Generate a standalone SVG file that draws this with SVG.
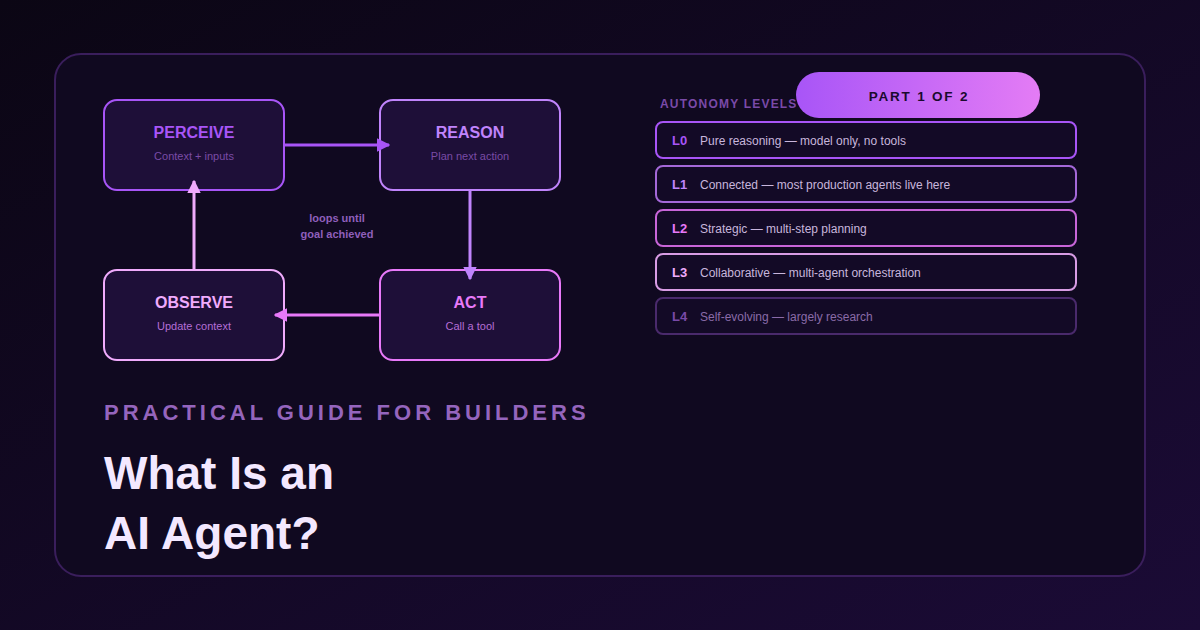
<svg xmlns="http://www.w3.org/2000/svg" width="1200" height="630" viewBox="0 0 1200 630">
<defs>
<linearGradient id="bg" x1="0" y1="0" x2="1" y2="1">
<stop offset="0" stop-color="#0b0614"/>
<stop offset="1" stop-color="#1b0b36"/>
</linearGradient>
<linearGradient id="pill" x1="0" y1="0" x2="1" y2="0">
<stop offset="0" stop-color="#a855f7"/>
<stop offset="1" stop-color="#e47cf5"/>
</linearGradient>
<marker id="mP" viewBox="0 0 10 10" refX="9" refY="5" markerWidth="4.5" markerHeight="4.5" orient="auto" markerUnits="strokeWidth"><path d="M0,0 L10,5 L0,10 z" fill="#a855f7"/></marker>
<marker id="mR" viewBox="0 0 10 10" refX="9" refY="5" markerWidth="4.5" markerHeight="4.5" orient="auto" markerUnits="strokeWidth"><path d="M0,0 L10,5 L0,10 z" fill="#c084fc"/></marker>
<marker id="mA" viewBox="0 0 10 10" refX="9" refY="5" markerWidth="4.5" markerHeight="4.5" orient="auto" markerUnits="strokeWidth"><path d="M0,0 L10,5 L0,10 z" fill="#e879f9"/></marker>
<marker id="mO" viewBox="0 0 10 10" refX="9" refY="5" markerWidth="4.5" markerHeight="4.5" orient="auto" markerUnits="strokeWidth"><path d="M0,0 L10,5 L0,10 z" fill="#f0abfc"/></marker>
</defs>
<style>
text{font-family:"Liberation Sans",Arial,sans-serif}
.node{fill:#1e0f38;stroke-width:2}
.t{font-size:16px;font-weight:bold;text-anchor:middle}
.s{font-size:11px;text-anchor:middle}
.row{fill:#130a26;stroke-width:2}
.lv{font-size:13px;font-weight:bold}
.ds{font-size:12px;fill:#c8b6dc}
.conn line{stroke-width:3;fill:none}
</style>
<rect width="1200" height="630" fill="url(#bg)"/>
<rect x="55" y="54" width="1090" height="522" rx="26" fill="#100920" stroke="#3a1e5c" stroke-width="2"/>

<g id="perceive">
<rect class="node" x="104" y="100" width="180" height="90" rx="13" stroke="#a855f7"/>
<text class="t" x="194" y="138" fill="#a855f7">PERCEIVE</text>
<text class="s" x="194" y="160" fill="#7a4ba6">Context + inputs</text>
</g>
<g id="reason">
<rect class="node" x="380" y="100" width="180" height="90" rx="13" stroke="#c084fc"/>
<text class="t" x="470" y="138" fill="#c084fc">REASON</text>
<text class="s" x="470" y="160" fill="#7a4ba6">Plan next action</text>
</g>
<g id="observe">
<rect class="node" x="104" y="270" width="180" height="90" rx="13" stroke="#f0abfc"/>
<text class="t" x="194" y="308" fill="#f0abfc">OBSERVE</text>
<text class="s" x="194" y="330" fill="#b56ed6">Update context</text>
</g>
<g id="act">
<rect class="node" x="380" y="270" width="180" height="90" rx="13" stroke="#e879f9"/>
<text class="t" x="470" y="308" fill="#e879f9">ACT</text>
<text class="s" x="470" y="330" fill="#b56ed6">Call a tool</text>
</g>

<g id="connectors" class="conn">
<line x1="285" y1="145" x2="389" y2="145" stroke="#a855f7" marker-end="url(#mP)"/>
<line x1="470" y1="191" x2="470" y2="279" stroke="#c084fc" marker-end="url(#mR)"/>
<line x1="379" y1="315" x2="275" y2="315" stroke="#e879f9" marker-end="url(#mA)"/>
<line x1="194" y1="269" x2="194" y2="181" stroke="#f0abfc" marker-end="url(#mO)"/>
</g>
<text x="337" y="222" font-size="11" font-weight="bold" fill="#8f5fbb" text-anchor="middle">loops until</text>
<text x="337" y="238" font-size="11" font-weight="bold" fill="#8f5fbb" text-anchor="middle">goal achieved</text>

<text x="660" y="108" font-size="12" font-weight="bold" letter-spacing="1.2" fill="#7a4aa8">AUTONOMY LEVELS</text>
<g id="pill-badge">
<rect x="796" y="72" width="244" height="46" rx="23" fill="url(#pill)"/>
<text x="919" y="101" font-size="13.5" font-weight="bold" letter-spacing="1.8" fill="#1a0a2e" text-anchor="middle">PART 1 OF 2</text>
</g>

<g id="L0">
<rect class="row" x="656" y="122" width="420" height="36" rx="7" stroke="#a855f7"/>
<text class="lv" x="672" y="145" fill="#a855f7">L0</text>
<text class="ds" x="700" y="145">Pure reasoning — model only, no tools</text>
</g>
<g id="L1">
<rect class="row" x="656" y="166" width="420" height="36" rx="7" stroke="#a468d8"/>
<text class="lv" x="672" y="189" fill="#c084fc">L1</text>
<text class="ds" x="700" y="189">Connected — most production agents live here</text>
</g>
<g id="L2">
<rect class="row" x="656" y="210" width="420" height="36" rx="7" stroke="#c865d8"/>
<text class="lv" x="672" y="233" fill="#e879f9">L2</text>
<text class="ds" x="700" y="233">Strategic — multi-step planning</text>
</g>
<g id="L3">
<rect class="row" x="656" y="254" width="420" height="36" rx="7" stroke="#d89ce4"/>
<text class="lv" x="672" y="277" fill="#f0abfc">L3</text>
<text class="ds" x="700" y="277">Collaborative — multi-agent orchestration</text>
</g>
<g id="L4">
<rect class="row" x="656" y="298" width="420" height="36" rx="7" stroke="#4a2a6c" stroke-width="1.5"/>
<text class="lv" x="672" y="321" fill="#7a4aa8">L4</text>
<text class="ds" x="700" y="321" style="fill:#8a6aa8">Self-evolving — largely research</text>
</g>

<text x="104" y="420" font-size="22" font-weight="bold" letter-spacing="4" fill="#9565bd">PRACTICAL GUIDE FOR BUILDERS</text>
<text x="104" y="489" font-size="46" font-weight="bold" fill="#f3e8ff">What Is an</text>
<text x="104" y="549" font-size="46" font-weight="bold" fill="#f3e8ff">AI Agent?</text>
</svg>
